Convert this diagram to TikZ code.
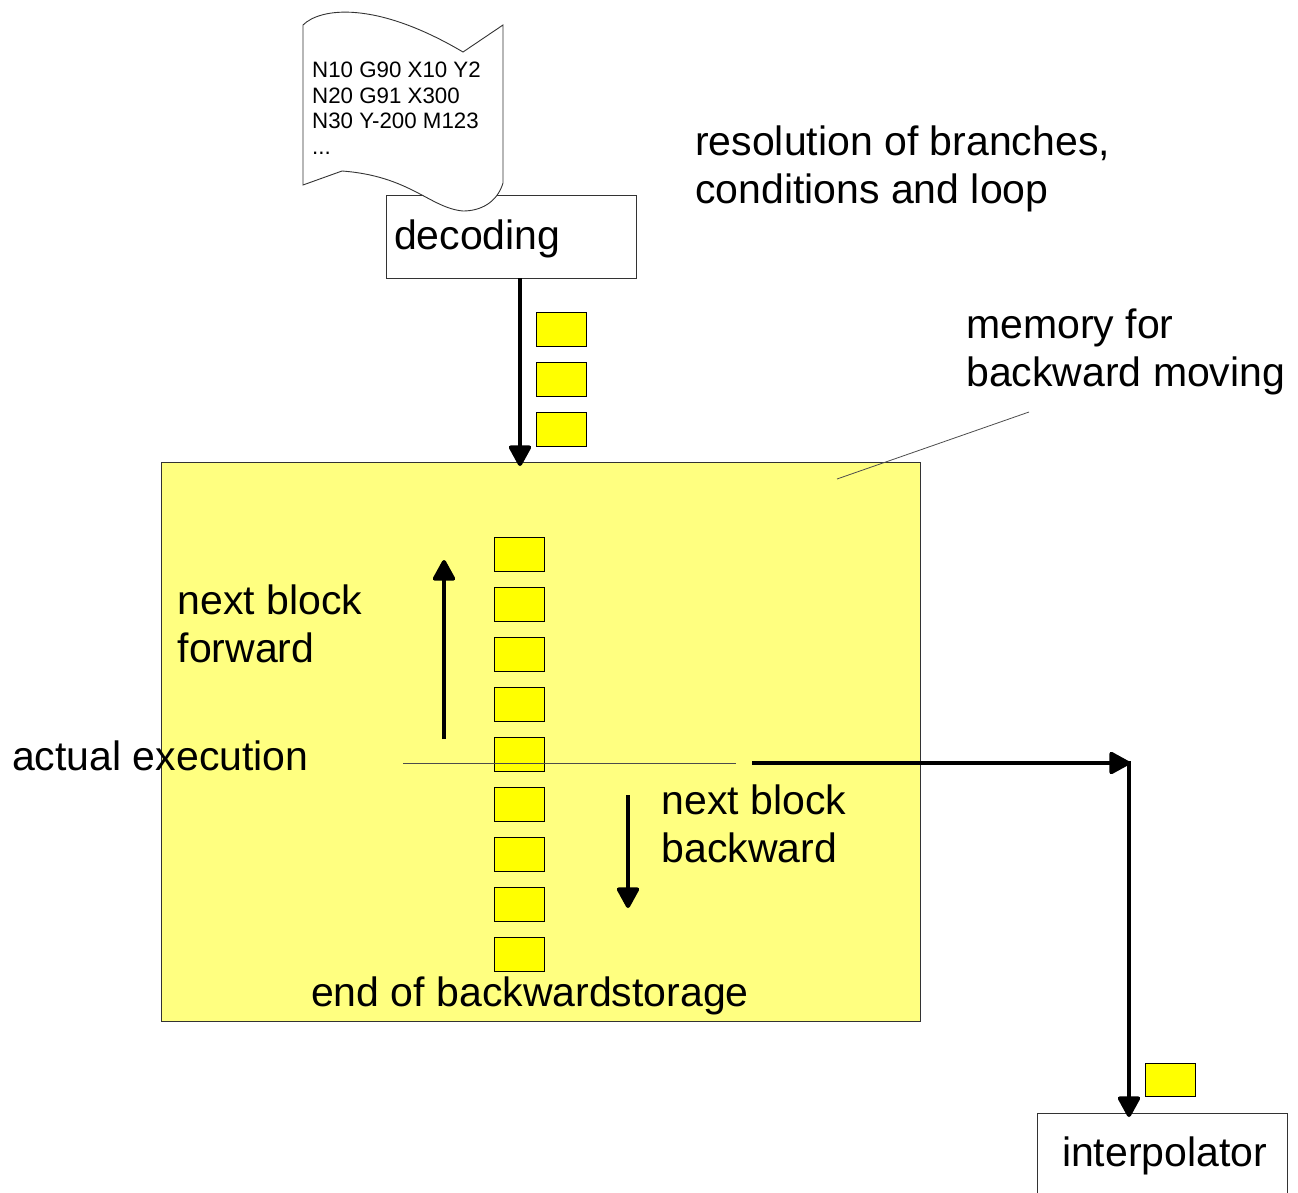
\documentclass[tikz,border=0pt]{standalone}
\usepackage{fontspec}
\setmainfont{Liberation Sans}
\usetikzlibrary{arrows.meta}
\definecolor{memfill}{HTML}{FFFF80}
\definecolor{blockfill}{HTML}{FFFF00}
\tikzset{
  box/.style={draw=black!80,line width=1pt,fill=white,anchor=north west,outer sep=0pt,minimum height=83pt,text width=250pt,text height=34pt,text depth=10pt,align=left,inner xsep=0pt,inner ysep=0pt,font=\fontsize{41}{48}\selectfont},
  block/.style={draw=black,line width=1pt,fill=blockfill,anchor=north west,outer sep=0pt,minimum width=50pt,minimum height=33.5pt,inner sep=0pt},
  lbl/.style={anchor=base west,align=left,inner sep=0pt,font=\fontsize{41}{48}\selectfont},
  flow/.style={line width=4pt,-{Triangle[length=23pt,width=24pt,round]}},
  thin line/.style={line width=0.8pt,black!70}
}
\begin{document}
\begin{tikzpicture}[x=1pt,y=-1pt]
    \useasboundingbox (0,0) rectangle (1298,1192);

    \node[box] (decoding) at (386,195.5) {\hspace*{8pt}decoding};
    \node[box] (interpolator) at (1037,1113) {\hspace*{25pt}interpolator};

    % program sheet
    \draw[line width=0.9pt,black!80,fill=white] (303,25) .. controls (320,8) and (375,0) .. (463,52)
        -- (503,25) -- (503,183) .. controls (497,203) and (480,211) .. (463,211)
        .. controls (430,208) and (410,176) .. (342,171) -- (303,185) -- cycle;
    \node[anchor=base west,align=left,inner sep=0pt,font=\fontsize{22.3}{25.5}\selectfont] (program) at (312,154) {N10 G90 X10 Y2\\N20 G91 X300\\N30 Y-200 M123\\...};

    \node[anchor=north west,draw=black!80,line width=1pt,fill=memfill,outer sep=0pt,minimum width=759pt,minimum height=559pt,inner sep=0pt] (memory) at (161,462.5) {};

    \foreach \i/\y in {a/312.5,b/362.5,c/412.5}
        \node[block] (in\i) at (536.5,\y) {};
    \foreach \i in {0,...,8}
        \node[block] (store\i) at (494.7,537.5+50*\i) {};
    \node[block] (out) at (1145.5,1063) {};

    \coordinate (inend) at (520,278);
    \coordinate (intip) at (520,466);
    \coordinate (fwdstart) at (444,739);
    \coordinate (fwdtip) at (444,560);
    \coordinate (bwdstart) at (628,795);
    \coordinate (bwdtip) at (628,908);
    \coordinate (outstart) at (752,763);
    \coordinate (corner) at (1130,763);
    \coordinate (cornertop) at (1129,761);
    \coordinate (outtip) at (1129,1117);
    \coordinate (actualleft) at (403,763);
    \coordinate (actualright) at (736,763);
    \coordinate (memleft) at (837,479);
    \coordinate (memright) at (1029,412);

    \draw[flow] (inend)--(intip);
    \draw[flow] (fwdstart)--(fwdtip);
    \draw[flow] (bwdstart)--(bwdtip);
    \draw[flow] (outstart)--(corner);
    \draw[flow] (cornertop)--(outtip);

    \draw[thin line] (actualleft)--(actualright);
    \draw[thin line] (memleft)--(memright);

    \node[lbl] (resolution) at (695,203) {resolution of branches,\\conditions and loop};
    \node[lbl] (membackward) at (966,386) {memory for\\backward moving};
    \node[lbl] (forward) at (177.5,662) {next block\\forward};
    \node[lbl] (actual) at (12,770) {actual execution};
    \node[lbl] (backward) at (661.5,862) {next block\\backward};
    \node[lbl] (endstore) at (311,1006) {end of backwardstorage};
\end{tikzpicture}
\end{document}
